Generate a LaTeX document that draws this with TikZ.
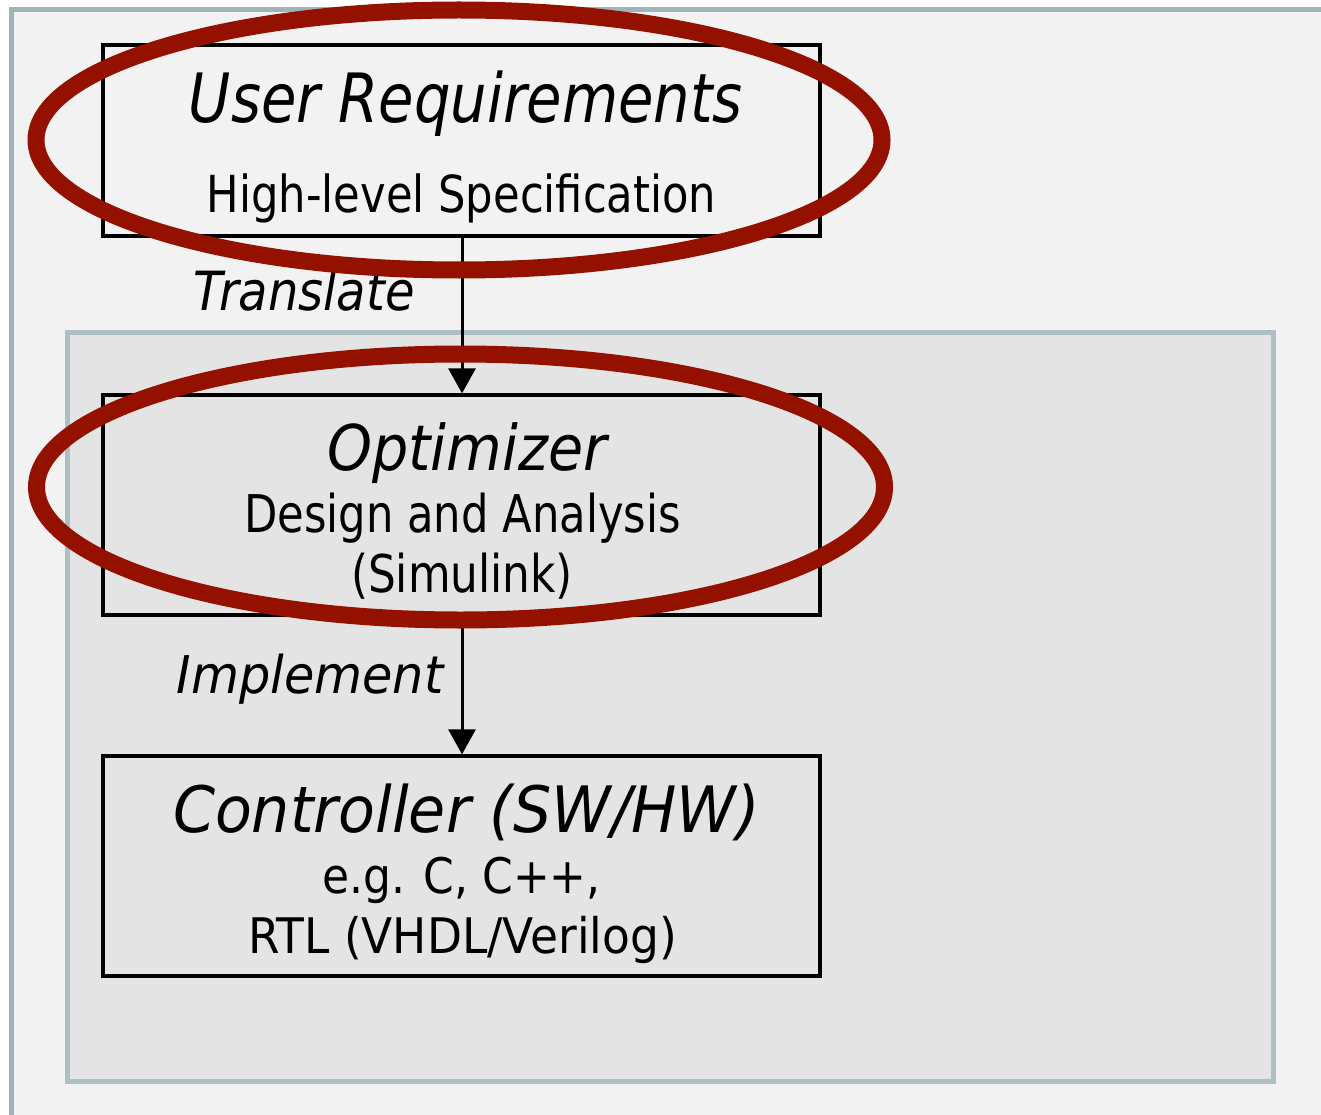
\documentclass[tikz,border=0pt]{standalone}
\usepackage{fontspec}
\setmainfont{DejaVu Sans}[FakeStretch=0.88]
\usetikzlibrary{arrows.meta}

\definecolor{pagebg}{HTML}{F2F2F2}
\definecolor{panelbg}{HTML}{E4E4E4}
\definecolor{outerrule}{HTML}{A0B4B8}
\definecolor{innerrule}{HTML}{ADBFC0}
\definecolor{ringred}{HTML}{941100}

\tikzset{
  outerframe/.style={draw=outerrule, line width=5pt, fill=pagebg},
  innerframe/.style={draw=innerrule, line width=5pt, fill=panelbg},
  stagebox/.style={draw=black, line width=3.3pt, minimum width=717pt, inner sep=0pt},
  flow/.style={line width=3pt, -{Triangle[width=27pt,length=25pt]}},
  txt/.style={anchor=base, inner sep=0pt, text=black},
  ring/.style={draw=ringred, line width=17pt},
}
% horizontal-only scaling of a label
\newcommand{\hx}[2]{\scalebox{#1}[1]{#2}}

\begin{document}
\begin{tikzpicture}[x=1pt, y=-1pt]
  \useasboundingbox (0,0) rectangle (1321,1115);
  \fill[white] (0,0) rectangle (1321,1115);

  % frames
  \draw[outerframe] (11,10) rectangle (1340,1135);
  \draw[innerframe] (67.5,332.5) rectangle (1273,1081.5);

  % stage boxes
  \node[stagebox, minimum height=191pt] (req) at (461.5,140.5) {};
  \node[stagebox, minimum height=220pt] (opt) at (461.5,505) {};
  \node[stagebox, minimum height=220pt] (ctl) at (461.5,866) {};

  % connectors
  \draw[flow] (req.south -| 462,0) -- (opt.north -| 462,0);
  \draw[flow] (opt.south -| 462,0) -- (ctl.north -| 462,0);

  % labels
  \node[txt, font=\fontsize{68}{80}\selectfont\itshape] (reqT) at (466,123) {\hx{0.963}{User Requirements}};
  \node[txt, font=\fontsize{51}{60}\selectfont] (reqS) at (461.5,213) {\hx{0.964}{High-level Specification}};
  \node[txt, font=\fontsize{54}{64}\selectfont\itshape] (trans) at (304,310) {\hx{1.01}{Translate}};
  \node[txt, font=\fontsize{63}{74}\selectfont\itshape] (optT) at (467,470) {\hx{1.03}{Optimizer}};
  \node[txt, font=\fontsize{52}{62}\selectfont] (optS1) at (462.5,532) {\hx{0.946}{Design and Analysis}};
  \node[txt, font=\fontsize{52}{62}\selectfont] (optS2) at (462,592) {\hx{0.957}{(Simulink)}};
  \node[txt, font=\fontsize{52}{62}\selectfont\itshape] (impl) at (310,693) {\hx{1.077}{Implement}};
  \node[txt, font=\fontsize{64}{76}\selectfont\itshape] (ctlT) at (466.5,832) {\hx{1.07}{Controller (SW/HW)}};
  \node[txt, font=\fontsize{49}{58}\selectfont] (ctlS1) at (461.5,893) {\hx{1.02}{e.g. C, C++,}};
  \node[txt, font=\fontsize{49}{58}\selectfont] (ctlS2) at (462.5,953) {\hx{1.055}{RTL (VHDL/Verilog)}};

  % highlight rings
  \draw[ring] (459,140) ellipse [x radius=423, y radius=130];
  \draw[ring] (460.5,487) ellipse [x radius=424, y radius=133];
\end{tikzpicture}
\end{document}
